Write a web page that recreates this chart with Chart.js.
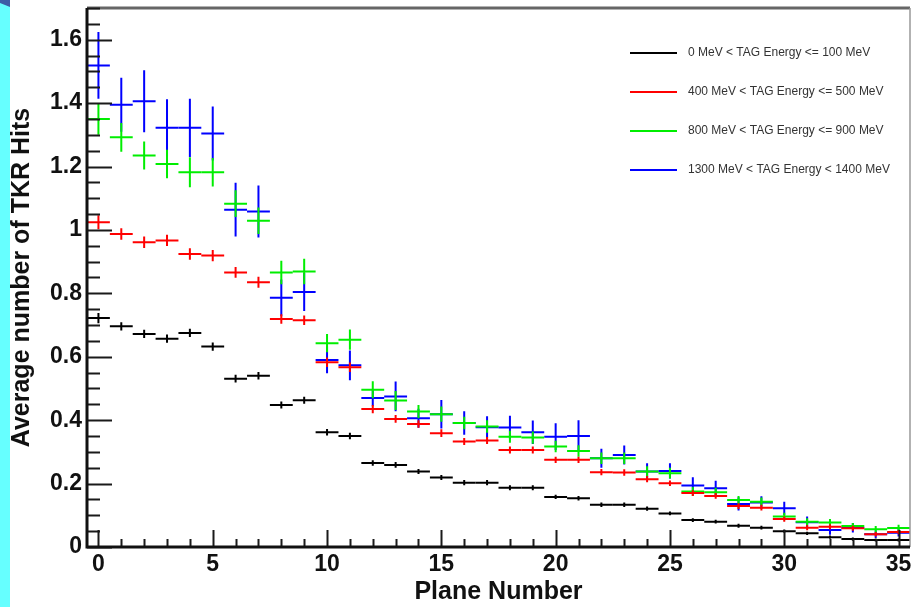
<!DOCTYPE html>
<html>
<head>
<meta charset="utf-8">
<script src="https://cdn.jsdelivr.net/npm/chart.js@4.4.1/dist/chart.umd.min.js"></script>
<style>
  html, body { margin: 0; padding: 0; background: #fff; }
  #wrap { width: 911px; height: 607px; }
</style>
</head>
<body>
<div id="wrap"><canvas id="c" width="911" height="607"></canvas></div>
<script>
// plane numbers (bin centres)
const planes = [0, 1, 2, 3, 4, 5, 6, 7, 8, 9, 10, 11, 12, 13, 14, 15, 16, 17,
  18, 19, 20, 21, 22, 23, 24, 25, 26, 27, 28, 29, 30, 31, 32, 33, 34, 35];

const labels = [
  '0 MeV < TAG Energy <= 100 MeV',
  '400 MeV < TAG Energy <= 500 MeV',
  '800 MeV < TAG Energy <= 900 MeV',
  '1300 MeV < TAG Energy < 1400 MeV'
];

// average number of TKR hits per plane
const hits0 = [0.722, 0.696, 0.672, 0.657, 0.675, 0.632, 0.531, 0.540, 0.448, 0.463,
  0.362, 0.350, 0.265, 0.259, 0.238, 0.219, 0.203, 0.203, 0.187, 0.187,
  0.158, 0.154, 0.133, 0.133, 0.121, 0.106, 0.085, 0.080, 0.067, 0.061,
  0.050, 0.043, 0.031, 0.025, 0.022, 0.022];
const hits400 = [1.024, 0.987, 0.961, 0.967, 0.924, 0.919, 0.866, 0.835, 0.719, 0.715,
  0.583, 0.567, 0.435, 0.404, 0.388, 0.359, 0.333, 0.336, 0.306, 0.306,
  0.275, 0.275, 0.236, 0.235, 0.214, 0.201, 0.170, 0.161, 0.129, 0.124,
  0.088, 0.061, 0.064, 0.059, 0.040, 0.047];
const hits800 = [1.350, 1.292, 1.235, 1.208, 1.182, 1.182, 1.083, 1.029, 0.866, 0.869,
  0.643, 0.654, 0.496, 0.462, 0.427, 0.419, 0.391, 0.380, 0.348, 0.345,
  0.317, 0.303, 0.280, 0.280, 0.238, 0.233, 0.175, 0.173, 0.148, 0.143,
  0.096, 0.080, 0.077, 0.066, 0.056, 0.060];
const hits1300 = [1.519, 1.395, 1.406, 1.322, 1.322, 1.304, 1.064, 1.058, 0.786, 0.804,
  0.590, 0.573, 0.470, 0.475, 0.406, 0.419, 0.391, 0.378, 0.377, 0.362,
  0.348, 0.350, 0.280, 0.290, 0.238, 0.240, 0.194, 0.185, 0.136, 0.140,
  0.122, 0.078, 0.054, 0.061, 0.040, 0.045];

// statistical errors
const err0 = [0.016, 0.013, 0.013, 0.013, 0.013, 0.013, 0.012, 0.012, 0.011, 0.011,
  0.010, 0.010, 0.009, 0.009, 0.008, 0.008, 0.008, 0.008, 0.008, 0.008,
  0.007, 0.007, 0.007, 0.007, 0.007, 0.006, 0.006, 0.006, 0.006, 0.006,
  0.005, 0.005, 0.005, 0.005, 0.005, 0.005];
const err400 = [0.022, 0.018, 0.018, 0.018, 0.018, 0.018, 0.017, 0.017, 0.015, 0.015,
  0.015, 0.015, 0.013, 0.012, 0.012, 0.012, 0.011, 0.011, 0.011, 0.011,
  0.010, 0.010, 0.010, 0.010, 0.010, 0.009, 0.009, 0.009, 0.009, 0.009,
  0.008, 0.008, 0.008, 0.008, 0.007, 0.007];
const err800 = [0.050, 0.045, 0.044, 0.045, 0.047, 0.045, 0.042, 0.042, 0.037, 0.040,
  0.029, 0.032, 0.027, 0.030, 0.021, 0.024, 0.020, 0.020, 0.019, 0.019,
  0.018, 0.018, 0.018, 0.018, 0.017, 0.017, 0.014, 0.014, 0.013, 0.013,
  0.012, 0.011, 0.011, 0.010, 0.010, 0.010];
const err1300 = [0.105, 0.085, 0.098, 0.090, 0.092, 0.085, 0.085, 0.082, 0.058, 0.060,
  0.042, 0.047, 0.026, 0.047, 0.030, 0.045, 0.037, 0.034, 0.037, 0.037,
  0.042, 0.050, 0.030, 0.030, 0.026, 0.024, 0.026, 0.024, 0.021, 0.020,
  0.021, 0.018, 0.015, 0.015, 0.012, 0.012];

const xTicks = [0, 5, 10, 15, 20, 25, 30, 35];
const yTicks = [0, 0.2, 0.4, 0.6, 0.8, 1, 1.2, 1.4, 1.6];

const colors = ['#000000', '#ff0000', '#00ee00', '#0000ff'];

const makeSet = (label, vals, errs, color) => ({
  label,
  data: planes.map((p, i) => ({ x: p, y: vals[i] })),
  errors: errs,
  borderColor: color,
  backgroundColor: color,
  pointRadius: 0,
  showLine: false
});

// ROOT style frame, ticks, error crosses and legend
const rootStyle = {
  id: 'rootStyle',
  beforeDraw(chart) {
    const ctx = chart.ctx;
    ctx.save();
    ctx.fillStyle = '#ffffff';
    ctx.fillRect(0, 0, chart.width, chart.height);
    ctx.fillStyle = '#66ffff';
    ctx.fillRect(0, 0, 10, chart.height);
    ctx.fillStyle = '#3d5ea6';
    ctx.beginPath();
    ctx.moveTo(0, 0); ctx.lineTo(10, 0); ctx.lineTo(10, 7); ctx.lineTo(0, 3);
    ctx.closePath();
    ctx.fill();
    ctx.restore();
  },
  afterDatasetsDraw(chart) {
    const { ctx, chartArea: a, scales: { x, y } } = chart;
    const sets = chart.data.datasets;

    ctx.save();
    ctx.beginPath();
    ctx.rect(a.left, a.top, a.right - a.left, a.bottom - a.top);
    ctx.clip();
    ctx.lineWidth = 2;
    for (let d = sets.length - 1; d >= 0; d--) {
      const ds = sets[d];
      ctx.strokeStyle = ds.borderColor;
      ds.data.forEach((p, i) => {
        const e = ds.errors[i];
        const x0 = x.getPixelForValue(p.x - 0.5), x1 = x.getPixelForValue(p.x + 0.5);
        const xc = x.getPixelForValue(p.x), yc = y.getPixelForValue(p.y);
        ctx.beginPath();
        ctx.moveTo(x0, yc); ctx.lineTo(x1, yc);
        ctx.moveTo(xc, y.getPixelForValue(p.y - e)); ctx.lineTo(xc, y.getPixelForValue(p.y + e));
        ctx.stroke();
      });
    }
    ctx.restore();

    ctx.save();
    // frame
    ctx.strokeStyle = '#666';
    ctx.lineWidth = 3;
    ctx.beginPath(); ctx.moveTo(a.left, a.top); ctx.lineTo(a.right, a.top); ctx.stroke();
    ctx.strokeStyle = '#999';
    ctx.lineWidth = 1.5;
    ctx.beginPath(); ctx.moveTo(a.right, a.top); ctx.lineTo(a.right, a.bottom); ctx.stroke();

    // ticks
    ctx.strokeStyle = '#1a1a1a';
    ctx.lineWidth = 2;
    ctx.beginPath();
    for (let v = 0; v <= 1.7001; v += 0.05) {
      const major = Math.abs(v * 5 - Math.round(v * 5)) < 1e-6;
      const py = Math.round(y.getPixelForValue(v)) + 0.5;
      ctx.moveTo(a.left, py); ctx.lineTo(a.left + (major ? 25 : 13), py);
    }
    for (let v = 0; v <= 35; v++) {
      const px = Math.round(x.getPixelForValue(v)) + 0.5;
      ctx.moveTo(px, a.bottom); ctx.lineTo(px, a.bottom - (v % 5 === 0 ? 17 : 8));
    }
    ctx.stroke();

    // axes
    ctx.strokeStyle = '#111';
    ctx.lineWidth = 3;
    ctx.beginPath();
    ctx.moveTo(a.left, a.top); ctx.lineTo(a.left, a.bottom); ctx.lineTo(a.right, a.bottom);
    ctx.stroke();

    // legend
    ctx.font = '12px "Liberation Sans", Arial, sans-serif';
    ctx.textBaseline = 'middle';
    sets.forEach((ds, i) => {
      const ly = 53 + i * 39;
      ctx.strokeStyle = ds.borderColor;
      ctx.lineWidth = 2;
      ctx.beginPath(); ctx.moveTo(630, ly); ctx.lineTo(677, ly); ctx.stroke();
      ctx.fillStyle = '#333';
      ctx.fillText(ds.label, 688, ly);
    });
    ctx.restore();
  }
};

const tickFont = { family: '"Liberation Sans", Arial, sans-serif', size: 23, weight: 'bold' };
const titleFont = { family: '"Liberation Sans", Arial, sans-serif', size: 25, weight: 'bold' };

new Chart(document.getElementById('c'), {
  type: 'scatter',
  data: {
    datasets: [
      makeSet(labels[0], hits0, err0, colors[0]),
      makeSet(labels[1], hits400, err400, colors[1]),
      makeSet(labels[2], hits800, err800, colors[2]),
      makeSet(labels[3], hits1300, err1300, colors[3])
    ]
  },
  options: {
    responsive: false,
    animation: false,
    layout: { padding: { top: 8, right: 1, left: 0, bottom: 0 } },
    plugins: { legend: { display: false }, tooltip: { enabled: false } },
    scales: {
      x: {
        type: 'linear',
        min: -0.5,
        max: 35.5,
        afterBuildTicks: s => { s.ticks = xTicks.map(v => ({ value: v })); },
        afterFit: s => { s.height = 60; s.paddingLeft = 0; s.paddingRight = 0; },
        grid: { display: false, drawTicks: false },
        border: { display: false },
        ticks: { font: tickFont, color: '#111', padding: 4, maxRotation: 0, autoSkip: false,
          callback: v => String(v) },
        title: { display: true, text: 'Plane Number', font: titleFont, color: '#111',
          padding: { top: 0, bottom: 0 } }
      },
      y: {
        min: 0,
        max: 1.7,
        afterBuildTicks: s => { s.ticks = yTicks.map(v => ({ value: v })); },
        afterFit: s => { s.width = 87; s.paddingTop = 0; s.paddingBottom = 0; },
        grid: { display: false, drawTicks: false },
        border: { display: false },
        ticks: { font: tickFont, color: '#111', padding: 5, autoSkip: false,
          callback: v => String(+v.toFixed(1)) },
        title: { display: true, text: 'Average number of TKR Hits', font: titleFont, color: '#111',
          padding: { top: 7, bottom: 0 } }
      }
    }
  },
  plugins: [rootStyle]
});
</script>
</body>
</html>
